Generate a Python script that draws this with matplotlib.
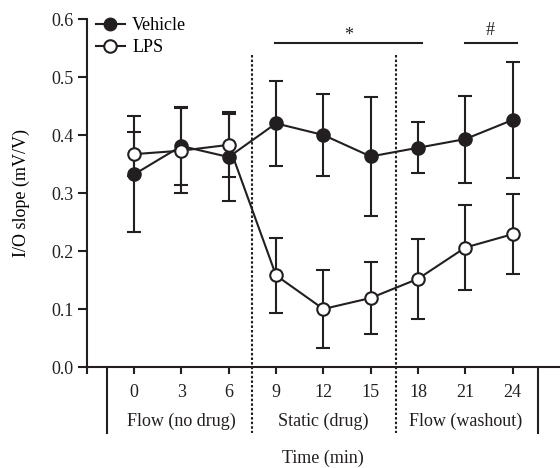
import numpy as np
import matplotlib.pyplot as plt

plt.rcParams["font.family"] = ["Liberation Serif", "DejaVu Serif"]
plt.rcParams["font.size"] = 13

time_min = [0, 3, 6, 9, 12, 15, 18, 21, 24]
vehicle_mean = [0.332, 0.381, 0.362, 0.420, 0.400, 0.363, 0.378, 0.393, 0.426]
vehicle_err = [0.100, 0.068, 0.075, 0.073, 0.071, 0.103, 0.044, 0.075, 0.100]
lps_mean = [0.367, 0.373, 0.383, 0.158, 0.100, 0.119, 0.152, 0.206, 0.229]
lps_err = [0.038, 0.073, 0.056, 0.065, 0.067, 0.062, 0.069, 0.073, 0.069]

phase_labels = ["Flow (no drug)", "Static (drug)", "Flow (washout)"]
phase_centers = [3, 12, 21]
phase_bounds = [7.5, 16.6]
group_edges = [-1.7, 25.6]

ink = "#231f20"

fig = plt.figure(figsize=(5.6, 4.68), dpi=100)
ax = fig.add_axes([86.7 / 560, 1 - 367 / 468, (560 - 86.7) / 560, (367 - 19) / 468])

# error bars first, then lines, then markers (vehicle below LPS)
for m, e in [(vehicle_mean, vehicle_err), (lps_mean, lps_err)]:
    ax.errorbar(time_min, m, yerr=e, fmt="none", ecolor=ink, elinewidth=1.5,
                capsize=5, capthick=1.5, zorder=2)
ax.plot(time_min, vehicle_mean, color=ink, lw=1.5, zorder=3)
ax.plot(time_min, lps_mean, color=ink, lw=1.5, zorder=3)
ax.plot(time_min, vehicle_mean, "o", ms=9, mfc=ink, mec=ink, mew=1.5, zorder=4)
ax.plot(time_min, lps_mean, "o", ms=9, mfc="white", mec=ink, mew=1.5, zorder=5)

# legend handles
h1, = ax.plot([], [], "-o", color=ink, ms=9, mfc=ink, mec=ink, lw=1.5, label="Vehicle")
h2, = ax.plot([], [], "-o", color=ink, ms=9, mfc="white", mec=ink, mew=1.5, lw=1.5, label="LPS")
ax.legend(handles=[h1, h2], loc="upper left", bbox_to_anchor=(96 / 560, 1 - 17 / 468),
          bbox_transform=fig.transFigure, frameon=False, borderpad=0, borderaxespad=0,
          handlelength=1.6, handletextpad=0.4, labelspacing=0.27)

ax.set_xlim(-3, 27)
ax.set_ylim(0, 0.6)
ax.set_yticks([0.0, 0.1, 0.2, 0.3, 0.4, 0.5, 0.6])
ax.set_yticklabels(["0.0", "0.1", "0.2", "0.3", "0.4", "0.5", "0.6"])
ax.set_xticks([-3] + time_min)
ax.set_xticklabels([""] + [str(t) for t in time_min])
ax.tick_params(axis="y", direction="out", length=6.5, width=1.5, colors=ink, pad=3)
ax.tick_params(axis="x", direction="out", length=5, width=1.5, colors=ink, pad=7.5)
for s in ["top", "right"]:
    ax.spines[s].set_visible(False)
for s in ["left", "bottom"]:
    ax.spines[s].set_linewidth(1.5)
    ax.spines[s].set_color(ink)

ax.set_ylabel("I/O slope (mV/V)", labelpad=15)

# phase separators and labels
for xb in phase_bounds:
    ax.plot([xb, xb], [0.538, -0.113], color=ink, lw=1.5, ls=(0, (1.2, 1)),
            clip_on=False, zorder=1)
for xe in group_edges:
    ax.plot([xe, xe], [0, -0.113], color=ink, lw=1.5, clip_on=False)
for xc, lab in zip(phase_centers, phase_labels):
    ax.text(xc, -0.094, lab, ha="center", va="center", color=ink)
ax.text(12, -0.157, "Time (min)", ha="center", va="center", color=ink)

# significance bars
ax.plot([8.94, 18.26], [0.559, 0.559], color=ink, lw=1.5, clip_on=False)
ax.text(13.6, 0.572, "*", ha="center", va="center", color=ink)
ax.plot([21.0, 24.26], [0.559, 0.559], color=ink, lw=1.5, clip_on=False)
ax.text(22.6, 0.581, "#", ha="center", va="center", color=ink)

fig.savefig("out.png", dpi=100)
